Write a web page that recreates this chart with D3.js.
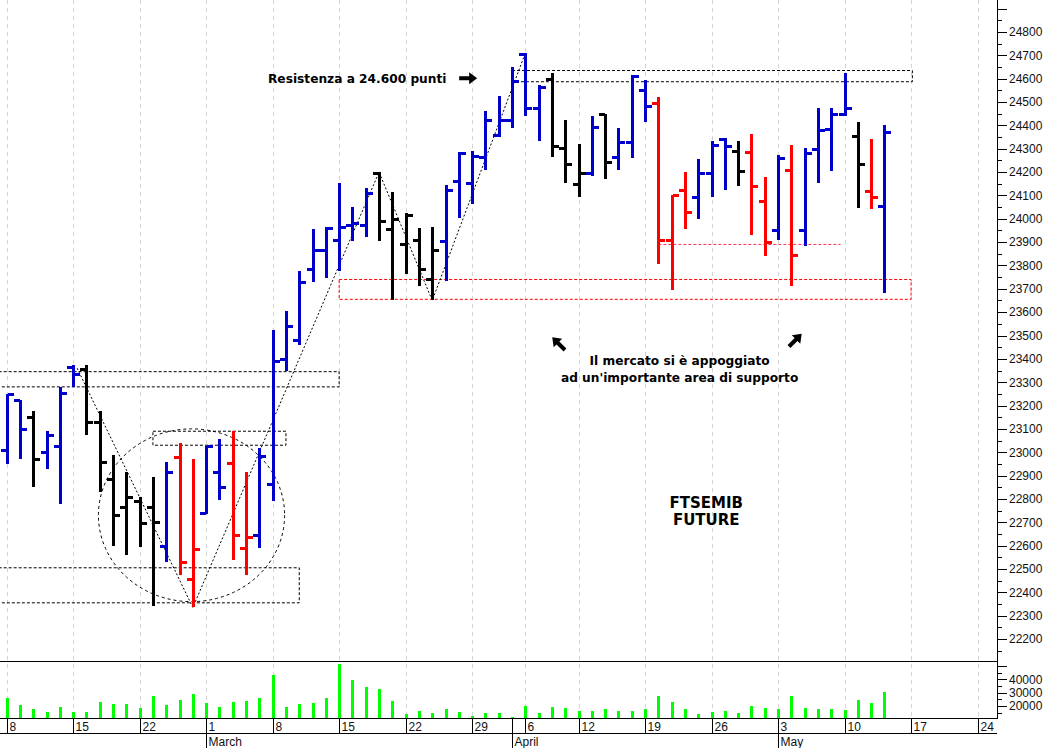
<!DOCTYPE html>
<html><head><meta charset="utf-8">
<script src="https://cdn.jsdelivr.net/npm/d3@7"></script>
<style>body{margin:0;background:#fff;} svg{display:block;}</style>
</head><body>
<svg id="c" width="1046" height="748"></svg>
<script>
// ---------- DATA ----------
const dates = [
 "2010-02-08","2010-02-09","2010-02-10","2010-02-11","2010-02-12","2010-02-15","2010-02-16","2010-02-17","2010-02-18","2010-02-19",
 "2010-02-22","2010-02-23","2010-02-24","2010-02-25","2010-02-26","2010-03-01","2010-03-02","2010-03-03","2010-03-04","2010-03-05",
 "2010-03-08","2010-03-09","2010-03-10","2010-03-11","2010-03-12","2010-03-15","2010-03-16","2010-03-17","2010-03-18","2010-03-19",
 "2010-03-22","2010-03-23","2010-03-24","2010-03-25","2010-03-26","2010-03-29","2010-03-30","2010-03-31","2010-04-01","2010-04-06",
 "2010-04-07","2010-04-08","2010-04-09","2010-04-12","2010-04-13","2010-04-14","2010-04-15","2010-04-16","2010-04-19","2010-04-20",
 "2010-04-21","2010-04-22","2010-04-23","2010-04-26","2010-04-27","2010-04-28","2010-04-29","2010-04-30","2010-05-03","2010-05-04",
 "2010-05-05","2010-05-06","2010-05-07","2010-05-10","2010-05-11","2010-05-12","2010-05-13"];
const openP = [23010,23225,23150,23000,23025,23365,23355,23130,22885,22765,
 22790,22765,22600,22980,22455,22740,22915,22955,22590,22645,
 22865,23400,23480,23785,23865,23910,23975,23975,24195,23955,
 23890,23910,23740,23905,24160,24155,24265,24360,24425,24705,
 24475,24600,24305,24150,24195,24450,24265,24330,24550,24495,
 23910,24125,24095,24195,24340,24290,24285,24075,23950,24210,
 23950,24300,24385,24450,24355,24120,24055];
const highP = [23250,23225,23175,23090,23280,23375,23375,23175,22990,22915,
 22810,22895,22960,23040,22970,23025,23055,23090,22915,23020,
 23525,23605,23775,23955,23965,24155,24050,24130,24200,24115,
 24025,23960,23965,24145,24285,24290,24460,24525,24650,24710,
 24575,24625,24425,24320,24440,24450,24390,24615,24595,24520,
 24100,24200,24255,24335,24345,24335,24365,24180,24275,24315,
 24305,24475,24475,24625,24415,24340,24400];
const lowP = [22950,22970,22850,22930,22780,23280,23075,22830,22600,22560,
 22595,22340,22530,22475,22335,22735,22795,22540,22475,22590,
 22790,23350,23460,23730,23745,23775,23905,23920,23905,23650,
 23765,23710,23650,23735,24005,24065,24210,24350,24390,24440,
 24335,24265,24155,24095,24185,24170,24210,24260,24415,23805,
 23695,23955,24000,24095,24125,24140,23930,23840,23910,23710,
 23885,24155,24205,24440,24045,24040,23680];
const closeP = [23250,23100,22970,23075,23255,23335,23130,22960,22730,22810,
 22695,22700,22915,22530,22585,23025,22850,22645,22635,22985,
 23390,23540,23730,23865,23960,23965,23980,24110,23990,24000,
 24015,23785,23865,24125,24280,24270,24425,24425,24590,24475,
 24565,24310,24235,24195,24395,24245,24330,24610,24485,23910,
 24100,24030,24195,24315,24310,24205,24140,23900,24260,23845,
 24280,24380,24450,24475,24235,24095,24370];
// trend colour code for every bar: B blue, K black, R red
const trend = ["B","B","K","B","B","B","K","K","K","K",
 "K","K","B","R","R","B","B","R","R","B",
 "B","B","B","B","B","B","B","B","K","K",
 "K","K","K","B","B","B","B","B","B","B",
 "B","K","K","K","B","K","B","B","B","R",
 "R","R","B","B","B","K","R","R","B","R",
 "B","B","B","B","K","R","B"];
const volume = [25800,20700,17500,15300,19000,15300,15300,23200,21500,21500,
 18300,27700,20700,24500,29000,22500,19500,23200,23700,26200,
 43200,19500,21500,22500,25800,51500,39500,34000,32700,23700,
 14000,16500,15000,17500,15700,12700,15000,15000,12000,20200,
 14500,19500,18300,16500,16300,18000,16300,16500,17800,27500,
 22800,17800,13800,15700,16000,14500,20200,18300,17800,27500,
 18700,18000,18000,17200,24500,22000,30300];
const holidays = ["2010-04-02","2010-04-05"];
const weekTickDates = ["2010-02-08","2010-02-15","2010-02-22","2010-03-01","2010-03-08","2010-03-15","2010-03-22","2010-03-29",
 "2010-04-06","2010-04-12","2010-04-19","2010-04-26","2010-05-03","2010-05-10","2010-05-17","2010-05-24"];
const weekTickLabels = ["8","15","22","1","8","15","22","29","6","12","19","26","3","10","17","24"];
const monthStartDates = ["2010-03-01","2010-04-01","2010-05-03"];
const monthLabels = ["March","April","May"];
const priceLabelValues = [22200,22300,22400,22500,22600,22700,22800,22900,23000,23100,23200,23300,23400,23500,
 23600,23700,23800,23900,24000,24100,24200,24300,24400,24500,24600,24700,24800];
const volumeLabelValues = [20000,30000,40000];

// annotation boxes (date-index span, value span)
const boxes = [
 {i0:-0.6, i1:25, v0:23280, v1:23345, c:"#000"},
 {i0:11, i1:21, v0:23030, v1:23090, c:"#000"},
 {i0:-0.6, i1:22, v0:22355, v1:22505, c:"#000"},
 {i0:38, i1:68.1, v0:24587, v1:24635, c:"#000"},
 {i0:25, i1:68, v0:23655, v1:23740, c:"#ff0000"}
];
const redLine = {i0:49, i1:62.7, v:23890};
const zigzag = [[5.3,23360],[14,22335],[28,24200],[32,23650],[39,24710]];
const ellipse = {i:13.9, v:22730, di:7.0, dv:370};

// ---------- SCALES ----------
const svg = d3.select("#c");
const axisX = 997;
const parse = d3.utcParse("%Y-%m-%d"), fmt = d3.utcFormat("%Y-%m-%d");
const cal = d3.utcDays(parse("2010-02-08"), parse("2010-06-01"))
  .filter(d => d.getUTCDay() !== 0 && d.getUTCDay() !== 6 && !holidays.includes(fmt(d))).map(fmt);
const idx = s => cal.indexOf(s);
const x = d3.scaleLinear().domain([-0.5, 74.5]).range([0, 997.5]);
const y = d3.scaleLinear().domain([22200, 24800]).range([639, 32]);
const yv = d3.scaleLinear().domain([20000, 40000]).range([706, 679.3]);
const volBase = 718;
const col = {B:"#0000cc", K:"#000000", R:"#ff0000"};

// ---------- GRID ----------
const gridG = svg.append("g");
weekTickDates.forEach(d => {
  const xx = Math.round(x(idx(d))) + 0.5;
  gridG.append("line").attr("x1", xx).attr("x2", xx).attr("y1", 0).attr("y2", volBase)
    .attr("stroke", "#d4d4d4").attr("stroke-dasharray", "4,4");
});

// ---------- ANNOTATION SHAPES ----------
const ann = svg.append("g").attr("fill", "none");
boxes.forEach(b => {
  ann.append("rect").attr("x", x(b.i0)).attr("y", y(b.v1))
    .attr("width", x(b.i1) - x(b.i0)).attr("height", y(b.v0) - y(b.v1))
    .attr("stroke", b.c).attr("stroke-dasharray", "3,2").attr("stroke-width", 1);
});
ann.append("line").attr("x1", x(redLine.i0)).attr("x2", x(redLine.i1))
  .attr("y1", y(redLine.v)).attr("y2", y(redLine.v))
  .attr("stroke", "#ff3050").attr("stroke-dasharray", "3,2");
ann.append("path").attr("d", d3.line()(zigzag.map(p => [x(p[0]), y(p[1])])))
  .attr("stroke", "#000").attr("stroke-dasharray", "2,2").attr("stroke-width", 1);
ann.append("ellipse").attr("cx", x(ellipse.i)).attr("cy", y(ellipse.v))
  .attr("rx", x(ellipse.i + ellipse.di) - x(ellipse.i)).attr("ry", y(ellipse.v - ellipse.dv) - y(ellipse.v))
  .attr("stroke", "#000").attr("stroke-dasharray", "3,3");

// ---------- OHLC BARS ----------
const bars = svg.append("g").attr("shape-rendering", "crispEdges");
dates.forEach((d, k) => {
  const cx = Math.round(x(idx(d)));
  const c = col[trend[k]];
  bars.append("rect").attr("x", cx - 1).attr("width", 3)
    .attr("y", Math.round(y(highP[k]))).attr("height", Math.max(2, Math.round(y(lowP[k])) - Math.round(y(highP[k]))))
    .attr("fill", c);
  bars.append("rect").attr("x", cx - 6).attr("width", 6)
    .attr("y", Math.round(y(openP[k])) - 1).attr("height", 3).attr("fill", c);
  bars.append("rect").attr("x", cx + 1).attr("width", 6)
    .attr("y", Math.round(y(closeP[k])) - 1).attr("height", 3).attr("fill", c);
});

// ---------- VOLUME ----------
const vg = svg.append("g").attr("shape-rendering", "crispEdges");
dates.forEach((d, k) => {
  const cx = Math.round(x(idx(d)));
  const top = Math.round(yv(volume[k]));
  vg.append("rect").attr("x", cx - 1).attr("width", 3).attr("y", top).attr("height", volBase - top).attr("fill", "#00ff00");
});

// ---------- FRAME / AXES ----------
const fr = svg.append("g").attr("stroke", "#000").attr("shape-rendering", "crispEdges");
[661, 718, 733].forEach(yy => fr.append("line").attr("x1", 0).attr("x2", axisX).attr("y1", yy + 0.5).attr("y2", yy + 0.5));
fr.append("line").attr("x1", axisX + 0.5).attr("x2", axisX + 0.5).attr("y1", 0).attr("y2", 719);

const priceAxis = d3.axisRight(y).tickValues(priceLabelValues).tickSize(10).tickPadding(2).tickFormat(d3.format("d"));
const pa = svg.append("g").attr("transform", `translate(${axisX},0)`).call(priceAxis);
pa.select(".domain").remove();
pa.selectAll("text").attr("font-family", "Liberation Sans, Arial, sans-serif").attr("font-size", 12).attr("fill", "#111");
pa.selectAll("line").attr("shape-rendering", "crispEdges");
const minorP = d3.range(22150, 24951, 100).concat([24900]);
minorP.forEach(v => svg.append("line").attr("x1", axisX).attr("x2", axisX + (v === 24900 ? 10 : 5))
  .attr("y1", Math.round(y(v)) + 0.5).attr("y2", Math.round(y(v)) + 0.5).attr("stroke", "#000").attr("shape-rendering", "crispEdges"));

const volAxis = d3.axisRight(yv).tickValues(volumeLabelValues).tickSize(10).tickPadding(2).tickFormat(d3.format("d"));
const va = svg.append("g").attr("transform", `translate(${axisX},0)`).call(volAxis);
va.select(".domain").remove();
va.selectAll("text").attr("font-family", "Liberation Sans, Arial, sans-serif").attr("font-size", 12).attr("fill", "#111");
va.selectAll("line").attr("shape-rendering", "crispEdges");
[15000, 25000, 35000, 45000, 50000].forEach(v => svg.append("line").attr("x1", axisX).attr("x2", axisX + (v === 50000 ? 10 : 5))
  .attr("y1", Math.round(yv(v)) + 0.5).attr("y2", Math.round(yv(v)) + 0.5).attr("stroke", "#000").attr("shape-rendering", "crispEdges"));

const da = svg.append("g").attr("font-family", "Liberation Sans, Arial, sans-serif").attr("font-size", 12).attr("fill", "#111");
weekTickDates.forEach((d, k) => {
  const xx = Math.round(x(idx(d))) + 0.5;
  da.append("line").attr("x1", xx).attr("x2", xx).attr("y1", 718).attr("y2", 733).attr("stroke", "#000").attr("shape-rendering", "crispEdges");
  da.append("text").attr("x", xx + 2).attr("y", 731).text(weekTickLabels[k]);
});
monthStartDates.forEach((d, k) => {
  const xx = Math.round(x(idx(d))) + 0.5;
  da.append("line").attr("x1", xx).attr("x2", xx).attr("y1", 718).attr("y2", 748).attr("stroke", "#000").attr("shape-rendering", "crispEdges");
  da.append("text").attr("x", xx + 2).attr("y", 746).text(monthLabels[k]);
});

// ---------- TEXT ANNOTATIONS ----------
const tg = svg.append("g").attr("font-family", "DejaVu Sans, Verdana, sans-serif").attr("font-weight", "bold").attr("fill", "#000");
tg.append("text").attr("x", x(19.65)).attr("y", y(24600)).attr("dy", "0.35em").attr("font-size", 12.2).text("Resistenza a 24.600 punti");
tg.append("text").attr("x", x(50.6)).attr("y", y(23390)).attr("dy", "0.35em").attr("text-anchor", "middle").attr("font-size", 12.2).text("Il mercato si è appoggiato");
tg.append("text").attr("x", x(50.6)).attr("y", y(23320)).attr("dy", "0.35em").attr("text-anchor", "middle").attr("font-size", 12.2).text("ad un'importante area di supporto");
tg.append("text").attr("x", x(52.6)).attr("y", y(22785)).attr("dy", "0.35em").attr("text-anchor", "middle").attr("font-size", 15).text("FTSEMIB");
tg.append("text").attr("x", x(52.6)).attr("y", y(22710)).attr("dy", "0.35em").attr("text-anchor", "middle").attr("font-size", 15).text("FUTURE");

function arrow(i, v, angle) {
  const g = svg.append("g").attr("transform", `translate(${x(i)},${y(v)}) rotate(${angle})`);
  g.append("path").attr("d", "M-9,-2 L1,-2 L1,-6 L9,0 L1,6 L1,2 L-9,2 Z").attr("fill", "#000");
}
arrow(34.7, 24602, 0);
arrow(41.5, 23465, -135);
arrow(59.3, 23480, -45);
</script>
</body></html>
